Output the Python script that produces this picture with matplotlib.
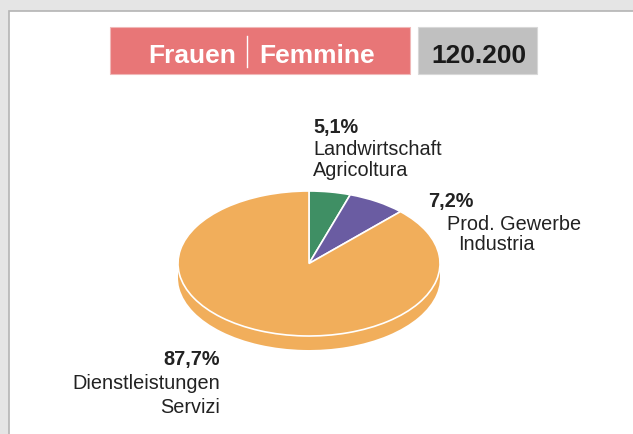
import numpy as np
import matplotlib.pyplot as plt
from matplotlib.patches import Rectangle

plt.rcParams['font.family'] = ['Liberation Sans', 'DejaVu Sans']

# data
sectors_de = ['Landwirtschaft', 'Prod. Gewerbe', 'Dienstleistungen']
sectors_it = ['Agricoltura', 'Industria', 'Servizi']
shares = [5.1, 7.2, 87.7]
colors = ['#3f8f64', '#6a5ca2', '#f1ae5b']
title_de = 'Frauen'
title_it = 'Femmine'
total = '120.200'

W, H = 633, 435
fig = plt.figure(figsize=(W / 100, H / 100), dpi=100)
fig.patch.set_facecolor('#e5e5e5')

# background axes in pixel coords
bg = fig.add_axes([0, 0, 1, 1])
bg.set_xlim(0, W)
bg.set_ylim(H, 0)
bg.axis('off')
bg.add_patch(Rectangle((9, 12), W, H, facecolor='white', edgecolor='#b4b4b4', lw=1.2))

# title boxes
bg.add_patch(Rectangle((110, 28), 300, 47, facecolor='#e87677', edgecolor='#f0b8b8', lw=0.8))
bg.add_patch(Rectangle((418, 28), 119, 47, facecolor='#c0c0c0', edgecolor='#d8d8d8', lw=0.8))
tfs = 19
bg.text(236, 63, title_de, color='white', fontsize=tfs, fontweight='bold', ha='right', va='baseline')
bg.plot([247, 247], [37, 68], color='white', lw=1)
bg.text(259, 63, title_it, color='white', fontsize=tfs, fontweight='bold', ha='left', va='baseline')
bg.text(479, 63, total, color='#1a1a1a', fontsize=tfs, fontweight='bold', ha='center', va='baseline')

# pie axes: centre at px (309, 264.5), radii 131 x 72.5
cx, cy, rx, ry = 309, 264.5, 131, 72.5
left, right, top, bottom = 150, 470, 180, 372
ax = fig.add_axes([left / W, (H - bottom) / H, (right - left) / W, (bottom - top) / H])
ax.axis('off')

depth = 14 / ry
ax.pie(shares, startangle=90, counterclock=False, colors=colors, center=(0, -depth),
       wedgeprops=dict(edgecolor='none'))
ax.add_patch(Rectangle((-1, -depth), 2, depth, facecolor=colors[2], edgecolor='none'))
ax.pie(shares, startangle=90, counterclock=False, colors=colors,
       wedgeprops=dict(edgecolor='white', linewidth=1.2))
ax.set_xlim((left - cx) / rx, (right - cx) / rx)
ax.set_ylim(-(bottom - cy) / ry, (cy - top) / ry)
ax.set_aspect('auto')

# labels
tc = '#222222'
fs = 14.3
pct = [f'{s:.1f}%'.replace('.', ',') for s in shares]
bg.text(313, 133, pct[0], fontsize=fs, fontweight='bold', color=tc, va='baseline')
bg.text(313, 155, sectors_de[0], fontsize=fs, color=tc, va='baseline')
bg.text(313, 176, sectors_it[0], fontsize=fs, color=tc, va='baseline')

bg.text(428, 207, pct[1], fontsize=fs, fontweight='bold', color=tc, va='baseline')
bg.text(447, 230, sectors_de[1], fontsize=fs, color=tc, va='baseline')
bg.text(458, 250, sectors_it[1], fontsize=fs, color=tc, va='baseline')

bg.text(220, 365, pct[2], fontsize=fs, fontweight='bold', color=tc, va='baseline', ha='right')
bg.text(220, 389, sectors_de[2], fontsize=fs, color=tc, va='baseline', ha='right')
bg.text(220, 413, sectors_it[2], fontsize=fs, color=tc, va='baseline', ha='right')

fig.savefig('out.png', dpi=100, facecolor=fig.get_facecolor())
